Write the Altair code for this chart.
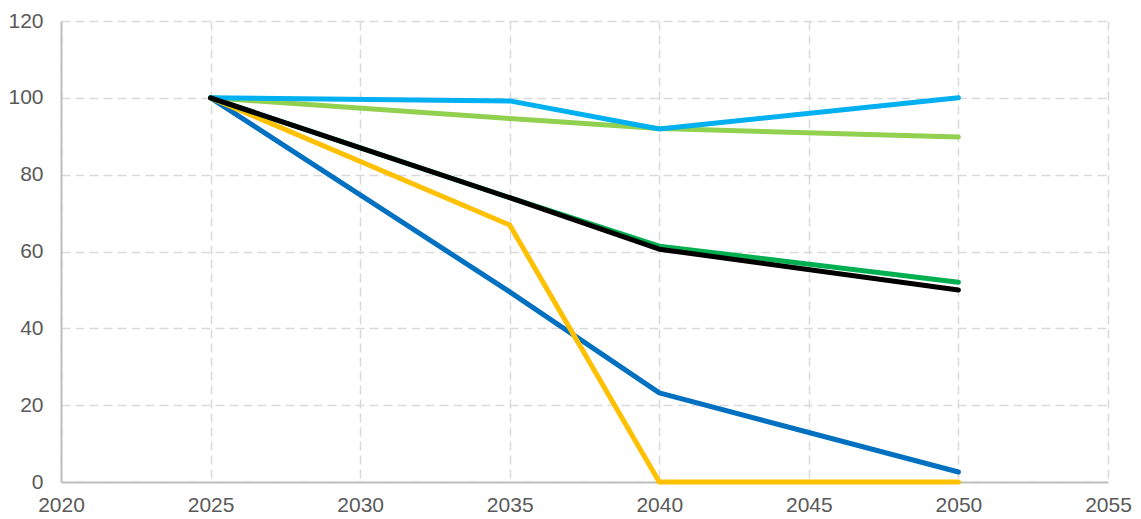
import altair as alt
import pandas as pd

years = [2025, 2035, 2040, 2050]
series_names = ["blue", "yellow", "green", "lightgreen", "lightblue", "black"]
blue = [100, 49.5, 23.2, 2.6]
yellow = [100, 66.9, 0, 0]
green = [100, 74, 61.4, 52]
lightgreen = [100, 94.6, 92, 89.8]
lightblue = [100, 99.2, 91.9, 100]
black = [100, 74, 60.6, 50]
colors = ["#0070C0", "#FFC000", "#00B050", "#92D050", "#00B0F0", "#000000"]
x_ticks = [2020, 2025, 2030, 2035, 2040, 2045, 2050, 2055]
y_ticks = [0, 20, 40, 60, 80, 100, 120]

values = [blue, yellow, green, lightgreen, lightblue, black]

font = "Liberation Sans"
xscale = alt.Scale(domain=[2020, 2055], nice=False, zero=False)
yscale = alt.Scale(domain=[0, 120], nice=False)

layers = []
for name, vals, col in zip(series_names, values, colors):
    df = pd.DataFrame({"year": years, "value": vals})
    layers.append(
        alt.Chart(df).mark_line(color=col, strokeWidth=5, strokeCap="round", strokeJoin="round").encode(
            x=alt.X("year:Q", scale=xscale, axis=alt.Axis(values=x_ticks, format="d", title=None,
                                                         labelPadding=12, labelFlush=False)),
            y=alt.Y("value:Q", scale=yscale, axis=alt.Axis(values=y_ticks, title=None, labelPadding=18)),
        )
    )

chart = alt.layer(*layers).properties(
    width=1047, height=461,
    autosize=alt.AutoSizeParams(type="none"),
    padding={"left": 53, "top": 13, "right": 25, "bottom": 37},
).configure_view(stroke=None).configure_axis(
    grid=True, gridDash=[9, 5], gridColor="#d9d9d9", gridWidth=1.5,
    ticks=False, labelFontSize=21, labelColor="#595959", labelFont=font,
    domainColor="#bfbfbf", domainWidth=2,
)

chart.save("out.html", embed_options={"renderer": "svg", "actions": False})
